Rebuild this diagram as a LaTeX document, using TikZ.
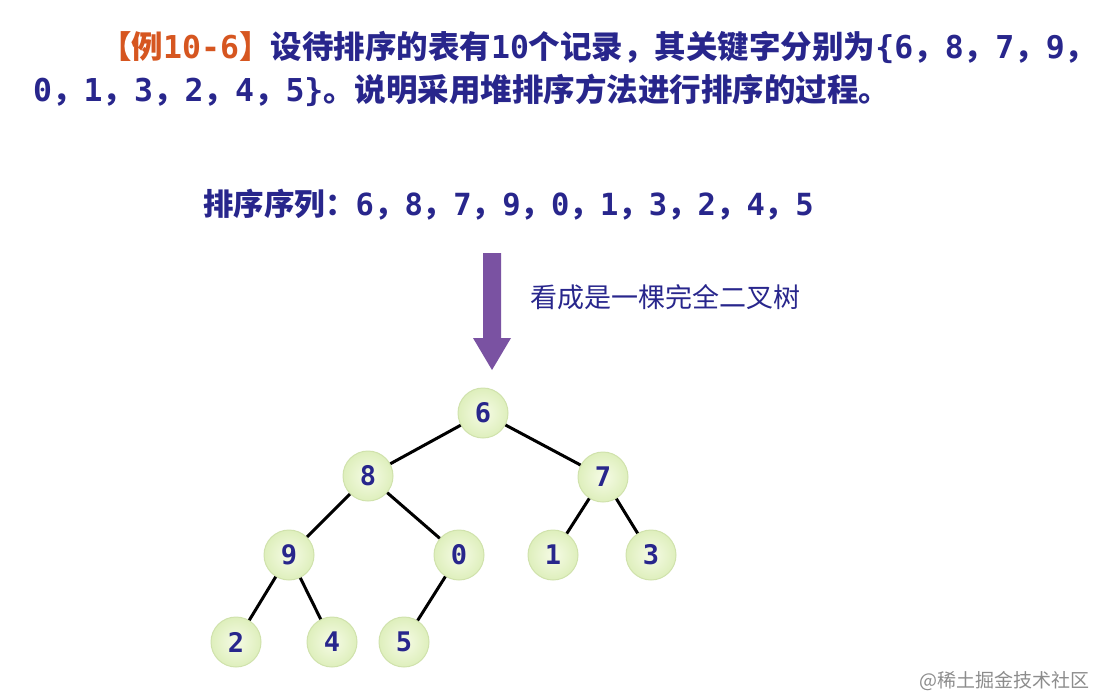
\documentclass[tikz,border=0pt]{standalone}
\usepackage{fontspec}
\setmainfont{Noto Sans CJK SC}
\newfontfamily\digfont{DejaVu Sans Mono}
\usetikzlibrary{positioning}

\definecolor{inkblue}{RGB}{40,38,140}
\definecolor{exred}{RGB}{214,86,32}
\definecolor{heapin}{RGB}{246,251,230}
\definecolor{heapout}{RGB}{222,239,188}
\definecolor{heapline}{RGB}{208,226,172}
\definecolor{arrowviolet}{RGB}{122,82,162}
\newcommand{\dg}[1]{{\digfont\bfseries #1}}

\begin{document}
\begin{tikzpicture}[
  x=1pt, y=-1pt,
  line/.style={anchor=west, inner sep=0pt, text=inkblue,
               font=\fontsize{31.5}{36}\selectfont\bfseries},
  hint/.style={anchor=west, inner sep=0pt, text=inkblue,
               font=\fontsize{27}{32}\selectfont},
  key/.style={circle, draw=heapline, line width=1pt, inner sep=0pt,
              minimum size=50pt, inner color=heapin, outer color=heapout,
              text=inkblue, font=\digfont\bfseries\fontsize{27}{30}\selectfont},
  edge/.style={line width=3pt, black},
]
  \useasboundingbox (0,0) rectangle (1097,697);

  % problem statement
  \node[line] (stmt1) at (100,47)
    {{\color{exred}【例\dg{10-6}】}设待排序的表有\dg{10}个记录，其关键字分别为\dg{\{6}，\dg{8}，\dg{7}，\dg{9}，};
  \node[line] (stmt2) at (33,90)
    {\dg{0}，\dg{1}，\dg{3}，\dg{2}，\dg{4}，\dg{5\}}。说明采用堆排序方法进行排序的过程。};

  % sequence
  \node[line, font=\fontsize{30.5}{36}\selectfont\bfseries] (seq) at (203,205)
    {排序序列：\dg{6}，\dg{8}，\dg{7}，\dg{9}，\dg{0}，\dg{1}，\dg{3}，\dg{2}，\dg{4}，\dg{5}};

  % block arrow
  \fill[arrowviolet] (483,253) -- (501,253) -- (501,338) -- (511,338)
    -- (492,370) -- (473,338) -- (483,338) -- cycle;
  \node[hint] (view) at (530,297) {看成是一棵完全二叉树};

  % heap as complete binary tree
  \node[key] (k6) at (483,413) {6};
  \node[key] (k8) at (368,476) {8};
  \node[key] (k7) at (603,477) {7};
  \node[key] (k9) at (289,555) {9};
  \node[key] (k0) at (459,555) {0};
  \node[key] (k1) at (553,555) {1};
  \node[key] (k3) at (651,555) {3};
  \node[key] (k2) at (236,642) {2};
  \node[key] (k4) at (332,642) {4};
  \node[key] (k5) at (404,642) {5};

  \draw[edge] (k6) -- (k8);
  \draw[edge] (k6) -- (k7);
  \draw[edge] (k8) -- (k9);
  \draw[edge] (k8) -- (k0);
  \draw[edge] (k7) -- (k1);
  \draw[edge] (k7) -- (k3);
  \draw[edge] (k9) -- (k2);
  \draw[edge] (k9) -- (k4);
  \draw[edge] (k0) -- (k5);

  % watermark
  \node[anchor=east, inner sep=0pt, text=black!45, font=\fontsize{19}{22}\selectfont]
    (mark) at (1090,681) {@稀土掘金技术社区};
\end{tikzpicture}
\end{document}
